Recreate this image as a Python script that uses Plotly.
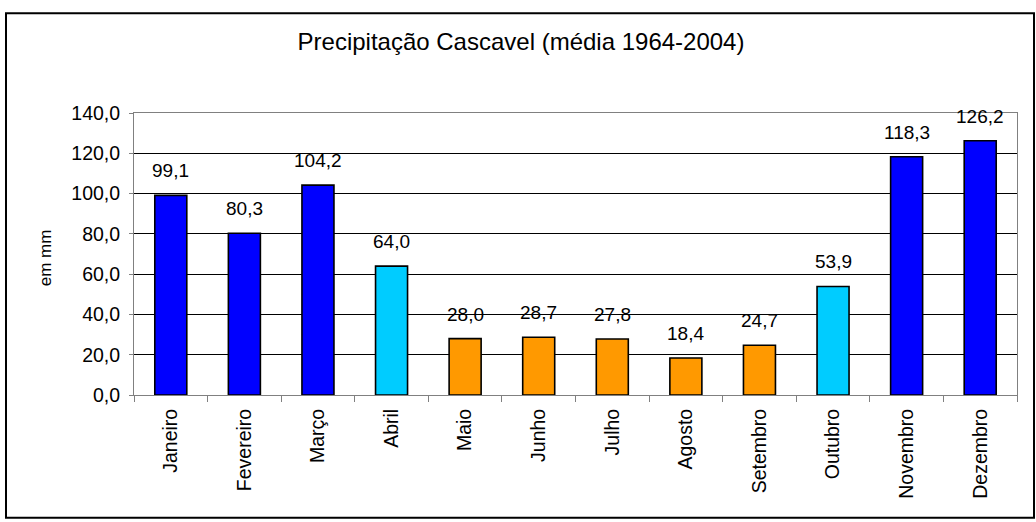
import plotly.graph_objects as go

meses = ["Janeiro", "Fevereiro", "Março", "Abril", "Maio", "Junho", "Julho",
         "Agosto", "Setembro", "Outubro", "Novembro", "Dezembro"]
precipitacao = [99.1, 80.3, 104.2, 64.0, 28.0, 28.7, 27.8, 18.4, 24.7, 53.9, 118.3, 126.2]
cores = ["#0000FF", "#0000FF", "#0000FF", "#00CCFF", "#FF9900", "#FF9900", "#FF9900",
         "#FF9900", "#FF9900", "#00CCFF", "#0000FF", "#0000FF"]
y_ticks = [0, 20, 40, 60, 80, 100, 120, 140]
y_tick_labels = ["0,0", "20,0", "40,0", "60,0", "80,0", "100,0", "120,0", "140,0"]

W, H = 1036, 522
L, R, T, B = 134, 1017, 112.5, 395
FONT = "Liberation Sans, Arial, sans-serif"

def px_x(p):
    return (p - L) / (R - L)

def px_y(p):
    return (B - p) / (B - T)

fig = go.Figure()
fig.add_trace(go.Bar(
    x=meses, y=precipitacao,
    marker=dict(color=cores, line=dict(color="black", width=1.6)),
    hoverinfo="skip",
))

annotations = []
for m, v in zip(meses, precipitacao):
    annotations.append(dict(
        x=m, y=v, xref="x", yref="y",
        text=f"{v:.1f}".replace(".", ","),
        showarrow=False, yanchor="bottom", yshift=12,
        font=dict(family=FONT, size=19, color="black"),
    ))
annotations.append(dict(
    x=px_x(45), y=px_y(258), xref="paper", yref="paper",
    text="em mm", textangle=-90, showarrow=False,
    xanchor="center", yanchor="middle",
    font=dict(family=FONT, size=17, color="black"),
))

fig.update_layout(
    width=W, height=H,
    margin=dict(l=L, r=W - R, t=T, b=H - B, pad=0),
    paper_bgcolor="white", plot_bgcolor="white",
    showlegend=False,
    bargap=0.565,
    title=dict(
        text="Precipitação Cascavel (média 1964-2004)",
        x=521 / W, y=1 - 42 / H, xref="container", yref="container",
        xanchor="center", yanchor="middle",
        font=dict(family=FONT, size=24, color="black"),
    ),
    annotations=annotations,
    shapes=[dict(
        type="rect", xref="paper", yref="paper",
        x0=px_x(6), x1=px_x(1034), y0=px_y(518), y1=px_y(12.5),
        line=dict(color="black", width=2), fillcolor="rgba(0,0,0,0)", layer="below",
    )],
)

fig.update_xaxes(
    type="category", tickangle=-90,
    tickfont=dict(family=FONT, size=19.5, color="black"),
    ticks="outside", tickson="boundaries", ticklen=6, tickcolor="#808080",
    ticklabelstandoff=5,
    showline=True, linecolor="#808080", linewidth=1, mirror=True,
    showgrid=False,
)
fig.update_yaxes(
    range=[0, 140], tickvals=y_ticks, ticktext=y_tick_labels,
    tickfont=dict(family=FONT, size=19.5, color="black"),
    ticks="outside", ticklen=4, tickcolor="#808080",
    ticklabelstandoff=5,
    showline=True, linecolor="#808080", linewidth=1, mirror=True,
    showgrid=True, gridcolor="black", gridwidth=1,
    zeroline=False,
)

fig.write_html("out.html")
